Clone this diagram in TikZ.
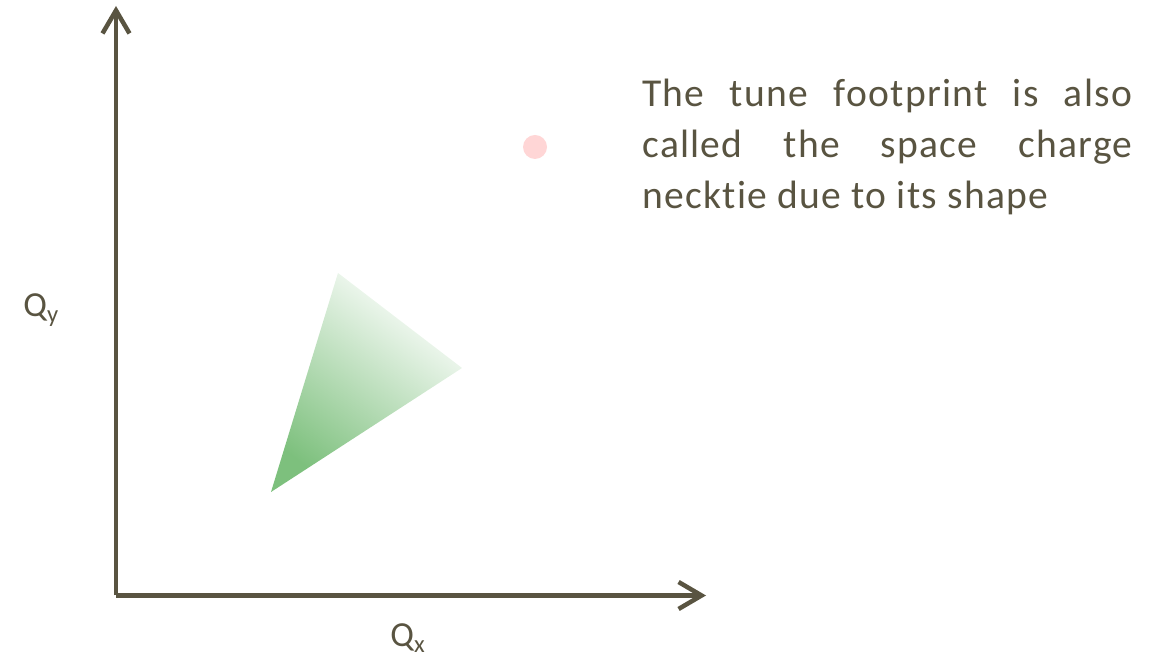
\documentclass[tikz,border=0pt]{standalone}
\usepackage{fontspec}
\setmainfont{Carlito}
\newfontfamily\notefont[LetterSpace=3.3, Ligatures=NoCommon]{Carlito}
\definecolor{AxisGray}{HTML}{595441}
\definecolor{TieGreen}{HTML}{7DC07D}
\definecolor{DotPink}{HTML}{FFD6D6}
\usetikzlibrary{arrows.meta, positioning, calc}

\begin{document}
\begin{tikzpicture}[
                axis/.style={line width=0.09cm, AxisGray, -{Straight Barb[length=4.6mm, width=5.4mm]}},
                lbl/.style={inner sep=0pt, text=AxisGray, font=\fontsize{20}{24}\selectfont},
                note/.style={inner sep=0pt, text=AxisGray, text width=9.8cm, align=justify, font=\notefont\fontsize{22.5}{29}\selectfont}
            ]
                \useasboundingbox (0,0) rectangle (23.16,13.26);
                \coordinate (orig) at (2.32, 1.35);
                \coordinate (ytip) at (2.32, 13.14);
                \coordinate (xtip) at (14.12, 1.35);

                % space charge necktie
                \coordinate (tieT) at (6.76, 7.80);
                \coordinate (tieR) at (9.24, 5.90);
                \coordinate (tieL) at (5.42, 3.42);
                \shade[bottom color=TieGreen, middle color=TieGreen!62, top color=white, shading angle=-37] (tieT) -- (tieR) -- (tieL) -- cycle;

                \draw[axis] (orig) -- (ytip);
                \draw[axis] (orig) -- (xtip);

                \node[lbl, anchor=base west] (qy) at (0.46, 6.92) {Q\textsubscript{y}};
                \node[lbl, anchor=base west] (qx) at (7.80, 0.32) {Q\textsubscript{x}};

                \node[circle, fill=DotPink, minimum size=0.48cm, inner sep=0pt] (dot) at (10.70, 10.32) {};
                \node[note, anchor=base west] (txt) at (12.84, 11.13) {The tune footprint is also\linebreak called the space charge\linebreak necktie due to its shape};
            \end{tikzpicture}
\end{document}
